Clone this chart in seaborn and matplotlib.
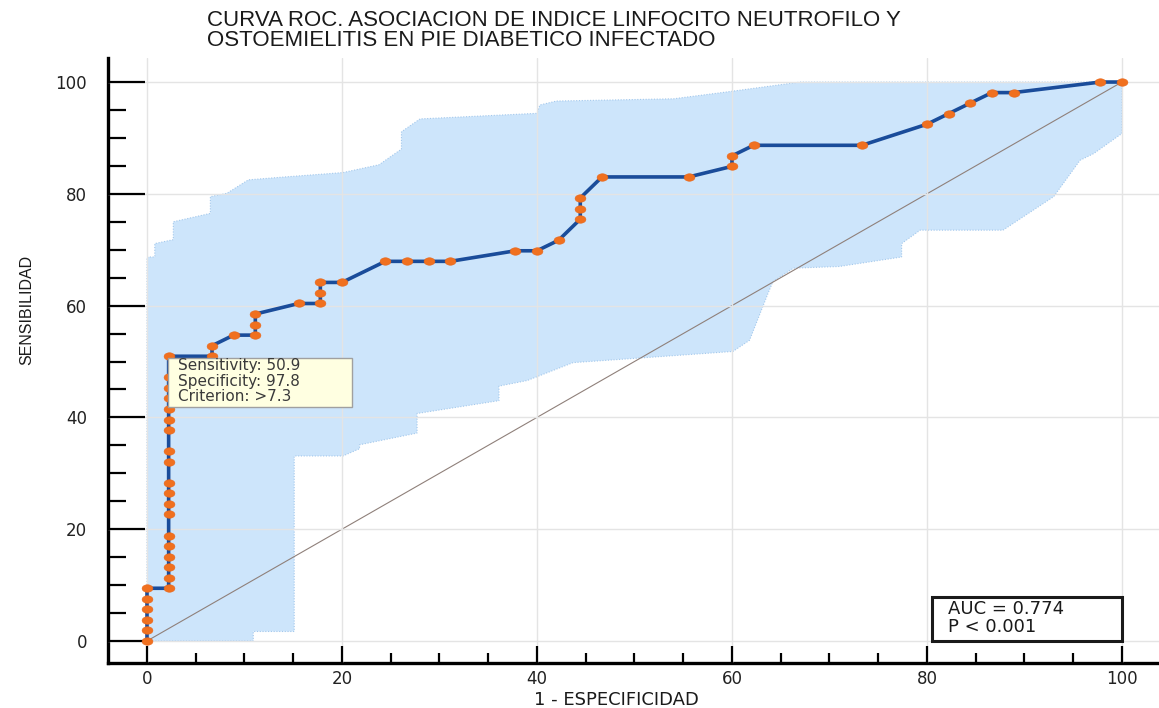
import numpy as np
import matplotlib
matplotlib.use("Agg")
import matplotlib.pyplot as plt
from matplotlib import font_manager
from matplotlib.path import Path
from matplotlib.patches import Rectangle
from matplotlib.ticker import FixedLocator
import seaborn as sns

# ROC curve: 1 - specificity (%) and sensitivity (%) at each criterion
fpr = [0, 0, 0, 0, 0, 0,
       2.22, 2.22, 2.22, 2.22, 2.22, 2.22, 2.22, 2.22, 2.22, 2.22,
       2.22, 2.22, 2.22, 2.22, 2.22, 2.22, 2.22, 2.22, 2.22,
       6.67, 6.67, 8.89, 11.11, 11.11, 11.11, 15.56, 17.78, 17.78, 17.78,
       20.00, 24.44, 26.67, 28.89, 31.11, 37.78, 40.00, 42.22,
       44.44, 44.44, 44.44, 46.67, 55.56, 60.00, 60.00, 62.22, 73.33,
       80.00, 82.22, 84.44, 86.67, 88.89, 97.78, 100.0]
tpr = [0, 1.89, 3.77, 5.66, 7.55, 9.43,
       9.43, 11.32, 13.21, 15.09, 16.98, 18.87, 22.64, 24.53, 26.42, 28.30,
       32.08, 33.96, 37.74, 39.62, 41.51, 43.40, 45.28, 47.17, 50.94,
       50.94, 52.83, 54.72, 54.72, 56.60, 58.49, 60.38, 60.38, 62.26, 64.15,
       64.15, 67.92, 67.92, 67.92, 67.92, 69.81, 69.81, 71.70,
       75.47, 77.36, 79.25, 83.02, 83.02, 84.91, 86.79, 88.68, 88.68,
       92.45, 94.34, 96.23, 98.11, 98.11, 100.0, 100.0]

# 95% confidence band around the curve
band_upper_x = [0, 0.8, 0.8, 2.7, 2.7, 6.5, 6.5, 8.2, 10.4, 14.0, 20.1, 23.8,
                26.1, 26.1, 28.0, 40.0, 40.3, 42.0, 54.0, 59.8, 67.0, 100.0]
band_upper_y = [68.7, 68.7, 71.1, 71.8, 75.0, 76.5, 79.5, 80.1, 82.5, 83.0, 83.8, 85.2,
                88.0, 91.1, 93.4, 94.4, 95.9, 96.6, 97.0, 98.3, 100.0, 100.0]
band_lower_x = [0, 10.9, 10.9, 15.1, 15.1, 20.1, 21.8, 21.8, 27.7, 27.7, 36.1, 36.1,
                39.0, 43.7, 52.0, 60.1, 61.8, 63.7, 64.2, 66.3, 71.0, 77.4, 77.4,
                79.3, 87.8, 93.0, 95.7, 97.1, 100.0]
band_lower_y = [0, 0, 1.7, 1.7, 33.1, 33.1, 34.4, 35.1, 37.2, 40.7, 43.0, 45.6,
                46.6, 49.8, 50.8, 51.8, 53.8, 62.2, 64.3, 66.7, 67.0, 68.7, 71.1,
                73.5, 73.5, 79.5, 86.0, 87.2, 90.8]

# chance line
chance = [0, 100]

x_ticks = [0, 20, 40, 60, 80, 100]
y_ticks = [0, 20, 40, 60, 80, 100]
minor_ticks = [v for v in range(5, 100, 5) if v % 20]

title_lines = ["CURVA ROC. ASOCIACION DE INDICE LINFOCITO NEUTROFILO Y",
               "OSTOEMIELITIS EN PIE DIABETICO INFECTADO"]
x_label = "1 - ESPECIFICIDAD"
y_label = "SENSIBILIDAD"
cut_sens = 50.9
cut_spec = 97.8
cut_crit = ">7.3"
auc = 0.774
p_text = "P < 0.001"

sns.set_theme(style="white")
plt.rcParams["font.family"] = ["DejaVu Sans"]

installed = {f.name for f in font_manager.fontManager.ttflist}
narrow = "Liberation Sans Narrow" in installed

W, H = 1159, 708
fig = plt.figure(figsize=(W / 100, H / 100), dpi=100)
fig.patch.set_facecolor("white")
ax = fig.add_axes([108 / W, 1 - 663 / H, 1 - 108 / W, (663 - 58) / H])
ax.set_facecolor("white")
ax.set_xlim(-4.0, 103.8)
ax.set_ylim(-3.94, 104.3)

# confidence band
poly_x = band_lower_x + band_upper_x[::-1]
poly_y = band_lower_y + band_upper_y[::-1]
ax.fill(poly_x, poly_y, facecolor="#cde5fb", edgecolor="#a3c8ec",
        linestyle=(0, (1, 1.5)), linewidth=0.8, zorder=1)

# diagonal reference
ax.plot(chance, chance, color="#8f807a", linewidth=0.8, zorder=2)

# ROC curve with elliptical point markers
t = np.linspace(0, 2 * np.pi, 41)
ellipse = Path(np.column_stack([1.45 * np.cos(t), np.sin(t)]), closed=True)
sns.lineplot(x=fpr, y=tpr, sort=False, estimator=None, ax=ax,
             color="#1a4c9a", linewidth=2.6, marker=ellipse, markersize=7.8,
             markerfacecolor="#f0701f", markeredgecolor="#e8661a",
             markeredgewidth=0.4, zorder=4)

# grid, spines and ticks
ax.set_axisbelow(False)
ax.grid(True, which="major", color="#e4e4e4", linewidth=1.0)
for side in ("top", "right"):
    ax.spines[side].set_visible(False)
for side in ("left", "bottom"):
    ax.spines[side].set_color("black")
    ax.spines[side].set_linewidth(2.4)

ax.xaxis.set_major_locator(FixedLocator(x_ticks))
ax.xaxis.set_minor_locator(FixedLocator(minor_ticks))
ax.yaxis.set_major_locator(FixedLocator(y_ticks))
ax.yaxis.set_minor_locator(FixedLocator(minor_ticks))
ax.tick_params(bottom=True, left=True, which="both")
ax.tick_params(axis="x", which="major", direction="in", length=12, width=1.6,
               color="black", pad=5, labelsize=12, labelcolor="#222222")
ax.tick_params(axis="x", which="minor", direction="in", length=7, width=1.6,
               color="black")
ax.tick_params(axis="y", which="major", direction="in", length=26.5, width=1.6,
               color="black", pad=15, labelsize=12, labelcolor="#222222")
ax.tick_params(axis="y", which="minor", direction="in", length=13, width=1.6,
               color="black")

# axis titles
ax.set_xlabel(x_label, fontsize=13, color="#1a1a1a")
ax.xaxis.label.set_va("center")
ax.xaxis.set_label_coords(0.484, -0.061)
if narrow:
    ax.set_ylabel(y_label, fontsize=13, color="#1a1a1a",
                  family=["Liberation Sans Narrow", "DejaVu Sans"])
else:
    ax.set_ylabel(y_label, fontsize=11.5, color="#1a1a1a",
                  family=["Liberation Sans", "DejaVu Sans"])
ax.yaxis.label.set_va("center")
ax.yaxis.set_label_coords(-0.077, 0.583)

# chart title, two left-aligned lines
fig.text(207 / W, 1 - 10 / H, "\n".join(title_lines), ha="left", va="top",
         fontsize=16, linespacing=0.92, color="#1a1a1a",
         family=["Liberation Sans", "DejaVu Sans"])

# tooltip at the selected criterion
ax.add_patch(Rectangle((2.18, 41.9), 18.8, 8.7, facecolor="#ffffe1",
                       edgecolor="#a0a0a0", linewidth=1.0, zorder=5))
tip_text = "\n".join([f"Sensitivity: {cut_sens}", f"Specificity: {cut_spec}",
                      f"Criterion: {cut_crit}"])
ax.text(3.2, 50.55, tip_text, ha="left", va="top", fontsize=11,
        linespacing=1.04, color="#3a3a3a", zorder=6)

# AUC box
ax.add_patch(Rectangle((80.5, 0), 19.5, 7.9, facecolor="white",
                       edgecolor="#1a1a1a", linewidth=2.2, zorder=5))
ax.text(82.2, 7.3, f"AUC = {auc}\n{p_text}", ha="left", va="top",
        fontsize=13, linespacing=0.98, color="#1a1a1a", zorder=6)

fig.savefig("out.png", dpi=100, facecolor="white")
